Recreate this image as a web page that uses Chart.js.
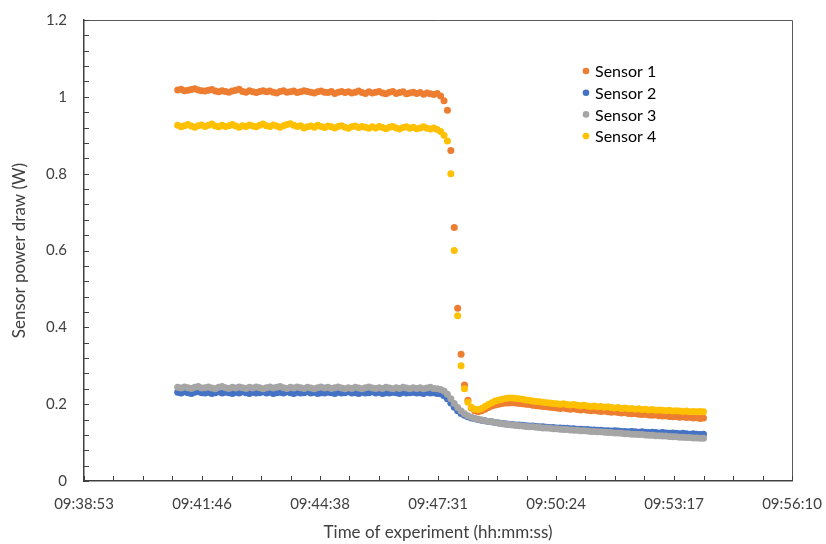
<!DOCTYPE html>
<html>
<head>
<meta charset="utf-8">
<script src="https://cdn.jsdelivr.net/npm/chart.js@4.4.1/dist/chart.umd.min.js"></script>
<style>
  html, body { margin: 0; padding: 0; background: #fff; }
  #wrap { width: 826px; height: 544px; }
</style>
</head>
<body>
<div id="wrap"><canvas id="myChart" width="826" height="544"></canvas></div>
<script>
// sampling clock (seconds since midnight) - one reading every 5 s
var sampleStart = 34870;
var sampleStep = 5;

var seriesNames = ["Sensor 1", "Sensor 2", "Sensor 3", "Sensor 4"];
var seriesColors = ["#ED7D31", "#4472C4", "#A5A5A5", "#FFC000"];

var xTickLabels = ["09:38:53", "09:41:46", "09:44:38", "09:47:31", "09:50:24", "09:53:17", "09:56:10"];
var xTickValues = [34732.8, 34905.6, 35078.4, 35251.2, 35424, 35596.8, 35769.6];
var yTickValues = [0, 0.2, 0.4, 0.6, 0.8, 1, 1.2];
var yTickLabels = ["0", "0.2", "0.4", "0.6", "0.8", "1", "1.2"];

var sensor1 = [
  1.018, 1.020, 1.016, 1.017, 1.019, 1.021, 1.018, 1.016, 1.015, 1.017,
  1.019, 1.015, 1.013, 1.016, 1.014, 1.012, 1.015, 1.017, 1.020, 1.014,
  1.012, 1.016, 1.013, 1.011, 1.014, 1.016, 1.013, 1.015, 1.012, 1.010,
  1.014, 1.016, 1.012, 1.013, 1.015, 1.011, 1.013, 1.016, 1.014, 1.012,
  1.010, 1.013, 1.015, 1.012, 1.011, 1.014, 1.009, 1.012, 1.014, 1.011,
  1.013, 1.010, 1.012, 1.015, 1.011, 1.009, 1.013, 1.010, 1.012, 1.014,
  1.010, 1.008, 1.012, 1.014, 1.009, 1.011, 1.013, 1.008, 1.010, 1.012,
  1.009, 1.011, 1.007, 1.010, 1.008, 1.006, 1.009, 1.002, 0.990, 0.965,
  0.860, 0.660, 0.450, 0.330, 0.250, 0.210, 0.190, 0.183, 0.180, 0.183,
  0.187, 0.191, 0.195, 0.198, 0.200, 0.202, 0.203, 0.203, 0.204, 0.203,
  0.202, 0.201, 0.200, 0.199, 0.197, 0.196, 0.195, 0.194, 0.193, 0.192,
  0.191, 0.190, 0.189, 0.190, 0.188, 0.187, 0.188, 0.186, 0.185, 0.186,
  0.184, 0.183, 0.184, 0.182, 0.181, 0.182, 0.180, 0.179, 0.180, 0.178,
  0.177, 0.178, 0.176, 0.175, 0.176, 0.174, 0.173, 0.174, 0.172, 0.171,
  0.172, 0.170, 0.169, 0.170, 0.168, 0.167, 0.168, 0.166, 0.167, 0.165,
  0.166, 0.164, 0.165, 0.163, 0.164
];

var sensor2 = [
  0.231, 0.229, 0.232, 0.230, 0.228, 0.231, 0.233, 0.230, 0.229, 0.231,
  0.228, 0.230, 0.232, 0.229, 0.231, 0.230, 0.228, 0.231, 0.229, 0.232,
  0.230, 0.228, 0.231, 0.229, 0.230, 0.232, 0.229, 0.231, 0.228, 0.230,
  0.231, 0.229, 0.232, 0.230, 0.228, 0.231, 0.229, 0.230, 0.232, 0.229,
  0.231, 0.228, 0.230, 0.229, 0.231, 0.230, 0.228, 0.231, 0.229, 0.230,
  0.232, 0.229, 0.230, 0.228, 0.231, 0.229, 0.230, 0.232, 0.229, 0.231,
  0.228, 0.230, 0.229, 0.231, 0.230, 0.228, 0.231, 0.229, 0.230, 0.231,
  0.229, 0.230, 0.228, 0.231, 0.229, 0.230, 0.228, 0.227, 0.222, 0.214,
  0.203, 0.192, 0.183, 0.176, 0.171, 0.167, 0.164, 0.162, 0.160, 0.158,
  0.157, 0.155, 0.154, 0.152, 0.151, 0.150, 0.149, 0.148, 0.147, 0.146,
  0.146, 0.145, 0.144, 0.143, 0.143, 0.142, 0.141, 0.141, 0.140, 0.139,
  0.139, 0.138, 0.138, 0.137, 0.137, 0.136, 0.136, 0.135, 0.135, 0.134,
  0.134, 0.133, 0.133, 0.132, 0.132, 0.131, 0.131, 0.130, 0.131, 0.130,
  0.129, 0.129, 0.128, 0.129, 0.128, 0.127, 0.128, 0.127, 0.126, 0.127,
  0.126, 0.125, 0.126, 0.125, 0.124, 0.125, 0.124, 0.123, 0.124, 0.123,
  0.122, 0.123, 0.122, 0.121, 0.122
];

var sensor3 = [
  0.244, 0.242, 0.245, 0.243, 0.241, 0.244, 0.246, 0.242, 0.243, 0.245,
  0.242, 0.240, 0.244, 0.246, 0.243, 0.241, 0.244, 0.242, 0.245, 0.243,
  0.241, 0.244, 0.242, 0.245, 0.243, 0.240, 0.243, 0.245, 0.242, 0.244,
  0.246, 0.243, 0.241, 0.244, 0.242, 0.245, 0.243, 0.241, 0.244, 0.242,
  0.240, 0.243, 0.245, 0.242, 0.244, 0.241, 0.243, 0.245, 0.242, 0.240,
  0.243, 0.241, 0.244, 0.242, 0.240, 0.243, 0.245, 0.242, 0.241, 0.243,
  0.241, 0.244, 0.242, 0.240, 0.243, 0.241, 0.244, 0.242, 0.240, 0.243,
  0.241, 0.243, 0.240, 0.242, 0.244, 0.241, 0.240, 0.238, 0.234, 0.226,
  0.214, 0.202, 0.191, 0.182, 0.175, 0.170, 0.166, 0.163, 0.161, 0.159,
  0.157, 0.155, 0.154, 0.152, 0.151, 0.149, 0.148, 0.147, 0.146, 0.145,
  0.144, 0.143, 0.142, 0.141, 0.141, 0.140, 0.139, 0.138, 0.138, 0.137,
  0.136, 0.136, 0.135, 0.134, 0.134, 0.133, 0.132, 0.132, 0.131, 0.131,
  0.130, 0.129, 0.129, 0.128, 0.128, 0.127, 0.126, 0.126, 0.125, 0.125,
  0.124, 0.123, 0.123, 0.122, 0.122, 0.121, 0.121, 0.120, 0.119, 0.119,
  0.118, 0.118, 0.117, 0.117, 0.116, 0.115, 0.115, 0.114, 0.114, 0.113,
  0.113, 0.112, 0.112, 0.111, 0.111
];

var sensor4 = [
  0.926, 0.922, 0.925, 0.928, 0.924, 0.921, 0.925, 0.927, 0.923, 0.926,
  0.929, 0.924, 0.922, 0.926, 0.923, 0.925, 0.928, 0.924, 0.921, 0.925,
  0.923, 0.927, 0.924, 0.922, 0.926, 0.929, 0.925, 0.923, 0.927, 0.924,
  0.921, 0.925, 0.928, 0.930, 0.926, 0.923, 0.925, 0.919, 0.922, 0.924,
  0.921, 0.926, 0.923, 0.920, 0.924, 0.922, 0.919, 0.923, 0.925, 0.921,
  0.918, 0.922, 0.924, 0.920, 0.923, 0.921, 0.918, 0.922, 0.919, 0.923,
  0.920, 0.917, 0.921, 0.923, 0.919, 0.916, 0.920, 0.922, 0.918, 0.921,
  0.917, 0.919, 0.922, 0.918, 0.916, 0.919, 0.915, 0.910, 0.900, 0.885,
  0.800, 0.600, 0.430, 0.300, 0.240, 0.205, 0.192, 0.187, 0.186, 0.189,
  0.194, 0.199, 0.204, 0.208, 0.211, 0.213, 0.215, 0.216, 0.216, 0.215,
  0.214, 0.213, 0.211, 0.210, 0.208, 0.207, 0.206, 0.205, 0.204, 0.203,
  0.202, 0.201, 0.200, 0.201, 0.199, 0.198, 0.199, 0.197, 0.196, 0.197,
  0.195, 0.194, 0.195, 0.193, 0.194, 0.192, 0.193, 0.191, 0.190, 0.191,
  0.189, 0.190, 0.188, 0.189, 0.187, 0.188, 0.186, 0.187, 0.185, 0.186,
  0.184, 0.185, 0.184, 0.183, 0.184, 0.182, 0.183, 0.182, 0.181, 0.182,
  0.180, 0.181, 0.180, 0.181, 0.180
];

var seriesValues = [sensor1, sensor2, sensor3, sensor4];

function toPoints(values) {
  return values.map(function (v, i) {
    return { x: sampleStart + i * sampleStep, y: v };
  });
}

var datasets = seriesNames.map(function (name, k) {
  return {
    label: name,
    data: toPoints(seriesValues[k]),
    backgroundColor: seriesColors[k],
    borderColor: seriesColors[k],
    borderWidth: 0,
    pointRadius: 3.5,
    pointHoverRadius: 3.5,
    showLine: false,
    order: 4 - k
  };
});

var fontFamily = "Lato, 'Open Sans', sans-serif";
var textColor = "#404040";

// inside tick marks, plot border and the floating legend
var decorations = {
  id: "decorations",
  afterDraw: function (chart) {
    var ctx = chart.ctx;
    var area = chart.chartArea;
    var xs = chart.scales.x;
    var ys = chart.scales.y;
    ctx.save();
    ctx.strokeStyle = "#595959";
    ctx.lineWidth = 1;
    ctx.beginPath();
    ctx.moveTo(area.left, area.top + 0.5);
    ctx.lineTo(area.right + 0.5, area.top + 0.5);
    ctx.lineTo(area.right + 0.5, area.bottom);
    ctx.stroke();

    ctx.strokeStyle = "#404040";
    ctx.beginPath();
    for (var k = 0; k <= 30; k++) {
      var py = Math.round(ys.getPixelForValue(k * 0.04)) + 0.5;
      ctx.moveTo(area.left, py);
      ctx.lineTo(area.left + 5, py);
    }
    var step = (xs.max - xs.min) / 24;
    for (var j = 0; j <= 24; j++) {
      var px = Math.round(xs.getPixelForValue(xs.min + j * step)) + 0.5;
      ctx.moveTo(px, area.bottom);
      ctx.lineTo(px, area.bottom - 5);
    }
    ctx.stroke();

    ctx.font = "16px " + fontFamily;
    ctx.textBaseline = "middle";
    ctx.textAlign = "left";
    for (var s = 0; s < chart.data.datasets.length; s++) {
      var ds = chart.data.datasets[s];
      var ly = area.top + 51 + s * 21.7;
      var lx = area.left + 502;
      ctx.fillStyle = ds.backgroundColor;
      ctx.beginPath();
      ctx.arc(lx, ly, 3.3, 0, Math.PI * 2);
      ctx.fill();
      ctx.fillStyle = "#000";
      ctx.fillText(ds.label, lx + 9, ly + 1);
    }
    ctx.restore();
  }
};

var ctx = document.getElementById("myChart");
var myChart = new Chart(ctx, {
  type: "scatter",
  data: { datasets: datasets },
  options: {
    responsive: false,
    animation: false,
    layout: { padding: { top: 20, right: 34, left: 0, bottom: 0 } },
    plugins: {
      legend: { display: false },
      tooltip: { enabled: false }
    },
    scales: {
      x: {
        type: "linear",
        min: xTickValues[0],
        max: xTickValues[xTickValues.length - 1],
        afterBuildTicks: function (scale) {
          scale.ticks = xTickValues.map(function (v) { return { value: v }; });
        },
        afterFit: function (scale) {
          scale.height = 63;
          scale.paddingLeft = 0;
          scale.paddingRight = 0;
        },
        grid: { display: true, drawOnChartArea: false, drawTicks: false },
        border: { display: true, color: "#404040", width: 1.5 },
        ticks: {
          padding: 14,
          maxRotation: 0,
          autoSkip: false,
          color: textColor,
          font: { family: fontFamily, size: 15 },
          callback: function (value, index) { return xTickLabels[index]; }
        },
        title: {
          display: true,
          text: "Time of experiment (hh:mm:ss)",
          color: textColor,
          font: { family: fontFamily, size: 17 },
          padding: { top: 4, bottom: 1 }
        }
      },
      y: {
        type: "linear",
        min: 0,
        max: 1.2,
        afterBuildTicks: function (scale) {
          scale.ticks = yTickValues.map(function (v) { return { value: v }; });
        },
        afterFit: function (scale) {
          scale.width = 84;
          scale.paddingTop = 0;
          scale.paddingBottom = 0;
        },
        grid: { display: true, drawOnChartArea: false, drawTicks: false },
        border: { display: true, color: "#404040", width: 1.5 },
        ticks: {
          padding: 17,
          color: textColor,
          font: { family: fontFamily, size: 15 },
          callback: function (value, index) { return yTickLabels[index]; }
        },
        title: {
          display: true,
          text: "Sensor power draw (W)",
          color: textColor,
          font: { family: fontFamily, size: 17 },
          padding: { top: 9, bottom: 4 }
        }
      }
    }
  },
  plugins: [decorations]
});
</script>
</body>
</html>
